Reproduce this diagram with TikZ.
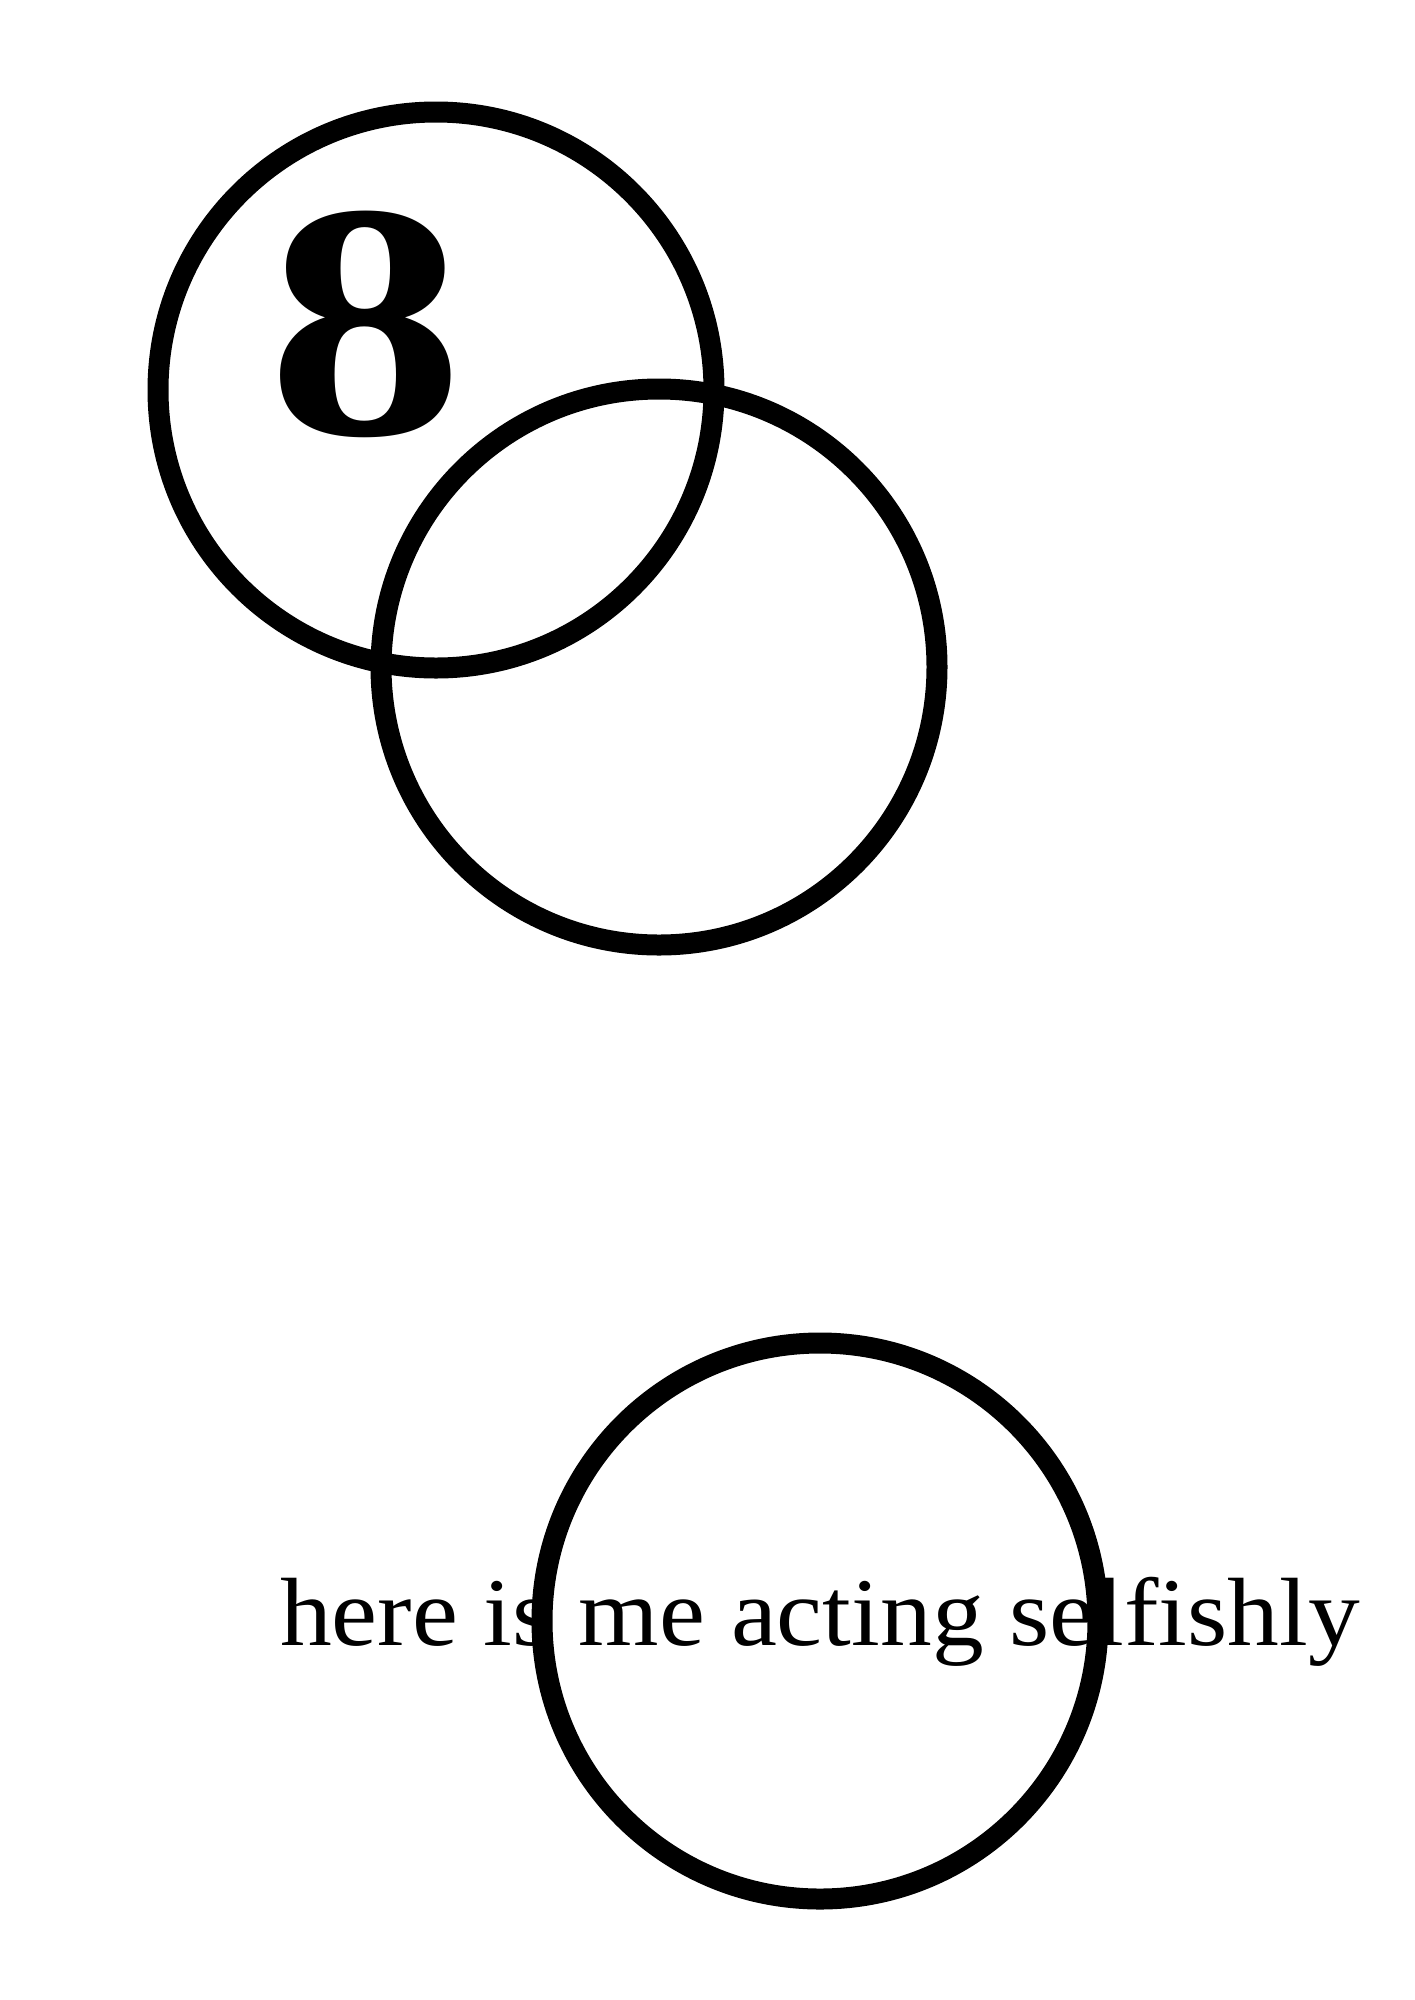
\documentclass[tikz,border=0pt]{standalone}
\usepackage{fontspec}
\newfontfamily\libs[Ligatures=NoCommon]{Liberation Serif}
\tikzset{
  ring/.style={circle, draw=black, line width=21pt, minimum size=556pt, inner sep=0pt},
  bigdigit/.style={inner sep=0pt, anchor=base, font=\libs\bfseries\fontsize{336}{340}\selectfont},
  caption/.style={inner sep=0pt, anchor=base, font=\libs\fontsize{97}{110}\selectfont}
}
\begin{document}
\begin{tikzpicture}[x=1pt,y=-1pt]
\useasboundingbox (0,0) rectangle (1414,2000);
\node[ring] (c1) at (436,390) {};
\node[ring] (c2) at (659,667) {};
\node[ring] (c3) at (820,1621) {};
\node[bigdigit] (eight) at (366,434) {\scalebox{1.17}[1]{8}};
\node[caption] (label) at (820,1645) {\scalebox{1.066}[1]{here is me acting selfishly}};
\end{tikzpicture}
\end{document}
